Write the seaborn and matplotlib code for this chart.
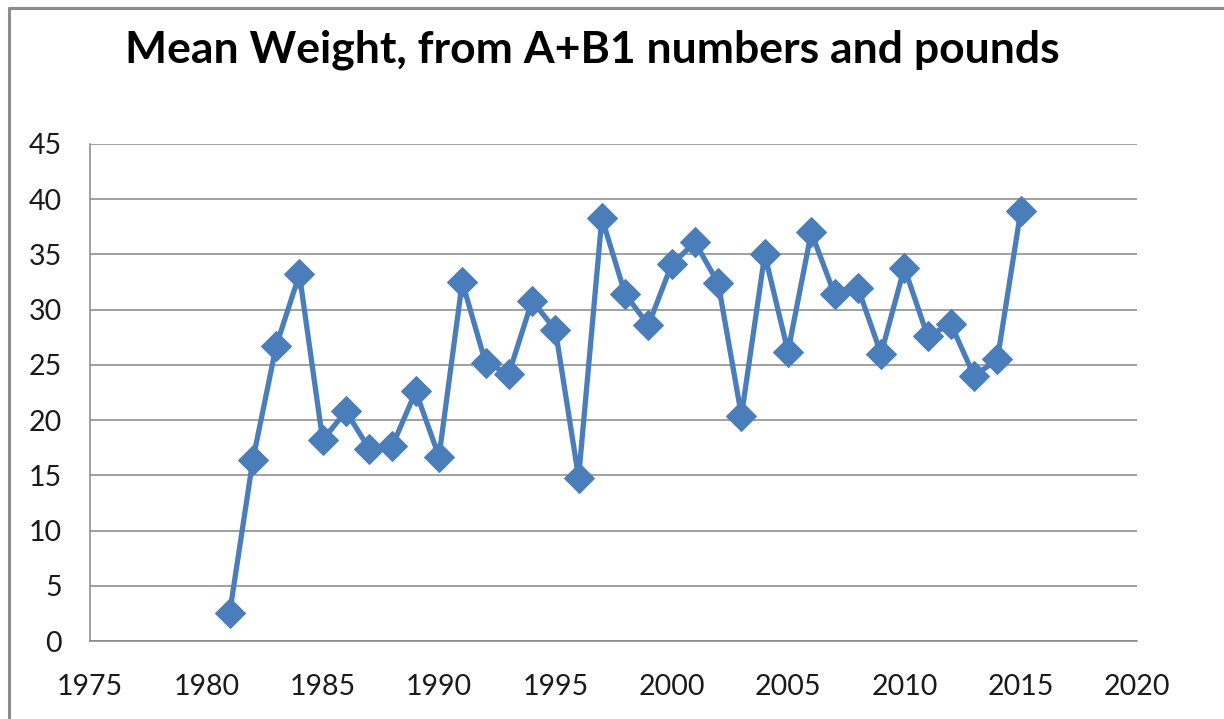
import numpy as np
import pandas as pd
import matplotlib
matplotlib.use('Agg')
import matplotlib.pyplot as plt
from matplotlib.lines import Line2D
import seaborn as sns

# Data
years = list(range(1981, 2016))
mean_weight = [2.5, 16.4, 26.7, 33.2, 18.2, 20.8, 17.4, 17.7, 22.6, 16.7,
               32.5, 25.2, 24.2, 30.8, 28.2, 14.8, 38.3, 31.4, 28.6, 34.1,
               36.1, 32.4, 20.4, 35.0, 26.2, 37.0, 31.4, 32.0, 26.0, 33.8,
               27.6, 28.7, 24.0, 25.5, 38.9]
x_ticks = list(range(1975, 2021, 5))
y_ticks = list(range(0, 46, 5))

title = 'Mean Weight, from A+B1 numbers and pounds'
line_color = '#4A7EBB'
grid_color = '#868686'

df = pd.DataFrame({'year': years, 'weight': mean_weight})

sns.set_style('white')
plt.rcParams['font.family'] = ['Lato', 'DejaVu Sans']

fig = plt.figure(figsize=(12.24, 7.19), dpi=100)
ax = fig.add_axes([90 / 1224, 1 - 641 / 719, (1137 - 90) / 1224, (641 - 144) / 719])

sns.lineplot(data=df, x='year', y='weight', ax=ax, color=line_color,
             linewidth=3.8, marker='D', markersize=15.5,
             markeredgecolor=line_color, markerfacecolor=line_color)

ax.set_xlim(1975, 2020)
ax.set_ylim(0, 45)
ax.set_xticks(x_ticks)
ax.set_yticks(y_ticks)
ax.set_xlabel('')
ax.set_ylabel('')
ax.yaxis.grid(True, color=grid_color, linewidth=1.1)
ax.xaxis.grid(False)
ax.set_axisbelow(True)

for side in ['top', 'right']:
    ax.spines[side].set_visible(False)
for side in ['left', 'bottom']:
    ax.spines[side].set_color(grid_color)
    ax.spines[side].set_linewidth(1.1)

ax.tick_params(axis='both', which='major', direction='out', length=6,
               width=1.1, color=grid_color, labelsize=20.5, labelcolor='#1a1a1a')
ax.tick_params(axis='y', pad=14)
ax.tick_params(axis='x', pad=18)

fig.text(0.484, 0.931, title, ha='center', va='center', fontsize=32,
         fontweight='bold', color='black')

# chart area border (left and top edges visible in the reference)
fig.add_artist(Line2D([9 / 1224, 9 / 1224], [0, 1 - 8 / 719], color='#8c8c8c', linewidth=2.2))
fig.add_artist(Line2D([9 / 1224, 1], [1 - 8 / 719, 1 - 8 / 719], color='#8c8c8c', linewidth=2.2))

fig.savefig('out.png', dpi=100)
